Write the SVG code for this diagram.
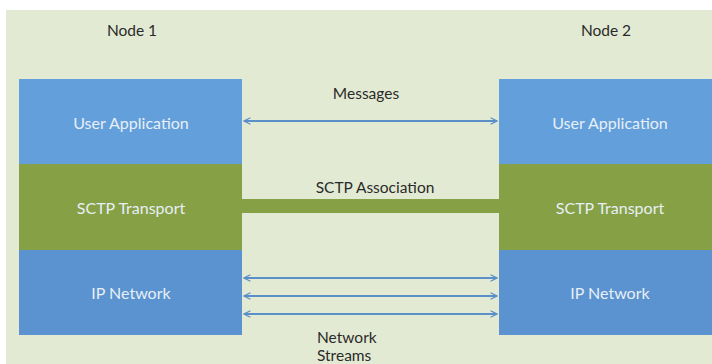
<svg xmlns="http://www.w3.org/2000/svg" width="712" height="364" viewBox="0 0 712 364">
<defs>
<style>
.lbl{font-family:"Lato","Liberation Sans",sans-serif;font-size:15.5px;fill:#2a2a2a}
.in{font-family:"Lato","Liberation Sans",sans-serif;font-size:16px;fill:#e8eff6;text-anchor:middle}
.blue{fill:#629fdb}
.blue2{fill:#5a93d0}
.green{fill:#86a046}
.arr{stroke:#5b8fc8;stroke-width:2;fill:none;marker-start:url(#ah);marker-end:url(#ah)}
</style>
<marker id="ah" viewBox="0 0 10 10" refX="9" refY="5" markerWidth="8" markerHeight="8" orient="auto-start-reverse" markerUnits="userSpaceOnUse">
<path d="M1,1 L9,5 L1,9" fill="none" stroke="#5b8fc8" stroke-width="1.6"/>
</marker>
</defs>
<rect width="712" height="364" fill="#ffffff"/>
<rect x="6" y="10" width="706" height="354" fill="#e3ead3"/>
<text class="lbl" x="132" y="36" text-anchor="middle">Node 1</text>
<text class="lbl" x="606" y="36" text-anchor="middle">Node 2</text>
<g id="node1">
<rect class="blue" x="19" y="79" width="223" height="85"/>
<rect class="green" x="19" y="164" width="223" height="86"/>
<rect class="blue2" x="19" y="250" width="223" height="85"/>
<text class="in" x="131" y="129">User Application</text>
<text class="in" x="131" y="214">SCTP Transport</text>
<text class="in" x="131" y="299">IP Network</text>
</g>
<g id="node2">
<rect class="blue" x="499" y="79" width="213" height="85"/>
<rect class="green" x="499" y="164" width="213" height="86"/>
<rect class="blue2" x="499" y="250" width="213" height="85"/>
<text class="in" x="610" y="129">User Application</text>
<text class="in" x="610" y="214">SCTP Transport</text>
<text class="in" x="610" y="299">IP Network</text>
</g>
<g id="connectors">
<line class="arr" x1="244" y1="121" x2="497" y2="121"/>
<rect class="green" x="242" y="199" width="257" height="14"/>
<line class="arr" x1="244" y1="278" x2="497" y2="278"/>
<line class="arr" x1="244" y1="296" x2="497" y2="296"/>
<line class="arr" x1="244" y1="314" x2="497" y2="314"/>
</g>
<text class="lbl" x="366" y="99" text-anchor="middle">Messages</text>
<text class="lbl" x="375" y="193" text-anchor="middle">SCTP Association</text>
<text class="lbl" x="317" y="343">Network</text>
<text class="lbl" x="317" y="361">Streams</text>
</svg>
